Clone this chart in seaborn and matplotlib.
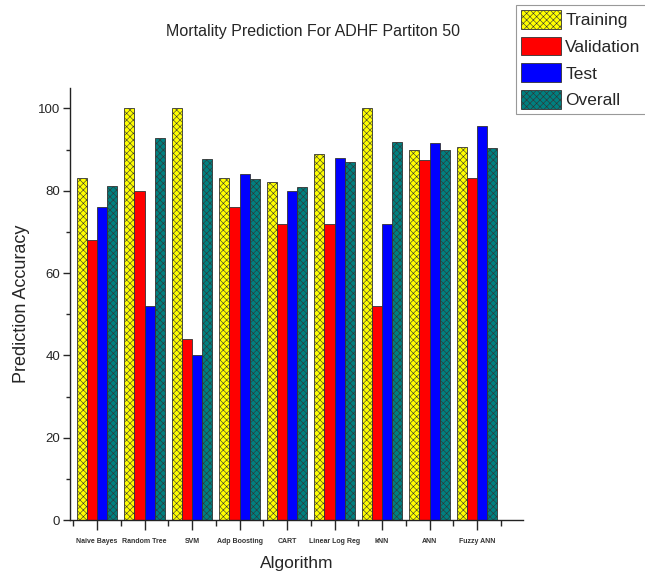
import pandas as pd
import seaborn as sns
import matplotlib.pyplot as plt
from matplotlib.ticker import MultipleLocator, FixedLocator
import numpy as np

# Values
algorithms = ["Naive Bayes", "Random Tree", "SVM", "Adp Boosting", "CART",
              "Linear Log Reg", "kNN", "ANN", "Fuzzy ANN"]
training = [83, 100, 100, 83, 82, 89, 100, 90, 90.5]
validation = [68, 80, 44, 76, 72, 72, 52, 87.4, 83.2]
test = [76, 52, 40, 84, 80, 88, 72, 91.7, 95.7]
overall = [81.2, 92.9, 87.8, 82.9, 80.8, 87, 91.9, 90, 90.3]

series_names = ["Training", "Validation", "Test", "Overall"]
series_colors = ["#ffff00", "#ff0000", "#0000ff", "#008080"]
series_hatch = ["xxxxx", "", "", "xxxxx"]

df = pd.DataFrame({
    "Algorithm": algorithms * 4,
    "Accuracy": training + validation + test + overall,
    "Set": np.repeat(series_names, len(algorithms)),
})

sns.set_theme(style="ticks")
plt.rcParams["hatch.linewidth"] = 0.4
plt.rcParams["font.family"] = ["Liberation Sans", "DejaVu Sans"]

fig = plt.figure(figsize=(6.45, 5.71), dpi=100)
ax = fig.add_axes([0.1085, 0.0893, 0.7025, 0.757])

sns.barplot(data=df, x="Algorithm", y="Accuracy", hue="Set",
            hue_order=series_names, palette=series_colors, width=0.85,
            edgecolor="#333333", linewidth=0.6, saturation=1, ax=ax,
            legend=False)

for cont, hatch in zip(ax.containers, series_hatch):
    for bar in cont:
        bar.set_hatch(hatch)

ax.set_ylim(0, 105)
ax.set_xlim(-0.57, 8.97)
ax.yaxis.set_major_locator(MultipleLocator(20))
ax.yaxis.set_minor_locator(MultipleLocator(10))
ax.xaxis.set_minor_locator(FixedLocator(np.arange(-0.5, 9.0, 1.0)))
ax.tick_params(axis="x", which="major", length=7, width=1, labelsize=5, pad=6)
ax.tick_params(axis="x", which="minor", length=4, width=1)
ax.tick_params(axis="y", which="major", length=5, width=1, labelsize=9.5, pad=2)
ax.tick_params(axis="y", which="minor", length=3, width=1)
for lab in ax.get_xticklabels():
    lab.set_fontweight("bold")
    lab.set_color("#333333")

sns.despine(ax=ax, top=True, right=True)
for s in ["left", "bottom"]:
    ax.spines[s].set_linewidth(1.0)
    ax.spines[s].set_color("#222222")

ax.set_xlabel("Algorithm", fontsize=12.5, labelpad=8)
ax.set_ylabel("Prediction Accuracy", fontsize=13, labelpad=6)
fig.text(0.485, 0.945, "Mortality Prediction For ADHF Partiton 50",
         ha="center", va="center", fontsize=11.5)

handles = [plt.Rectangle((0, 0), 1, 1, facecolor=c, edgecolor="#333333",
                         linewidth=0.6, hatch=h)
           for c, h in zip(series_colors, series_hatch)]
leg = fig.legend(handles, series_names, loc="upper left",
                 bbox_to_anchor=(0.797, 0.995), fontsize=12.5,
                 handlelength=2.3, handleheight=1.3, handletextpad=0.25,
                 labelspacing=0.45, borderpad=0.3, borderaxespad=0.1,
                 fancybox=False, framealpha=1, edgecolor="#999999")
leg.get_frame().set_linewidth(0.8)

fig.savefig("out.png", dpi=100)
plt.close()
